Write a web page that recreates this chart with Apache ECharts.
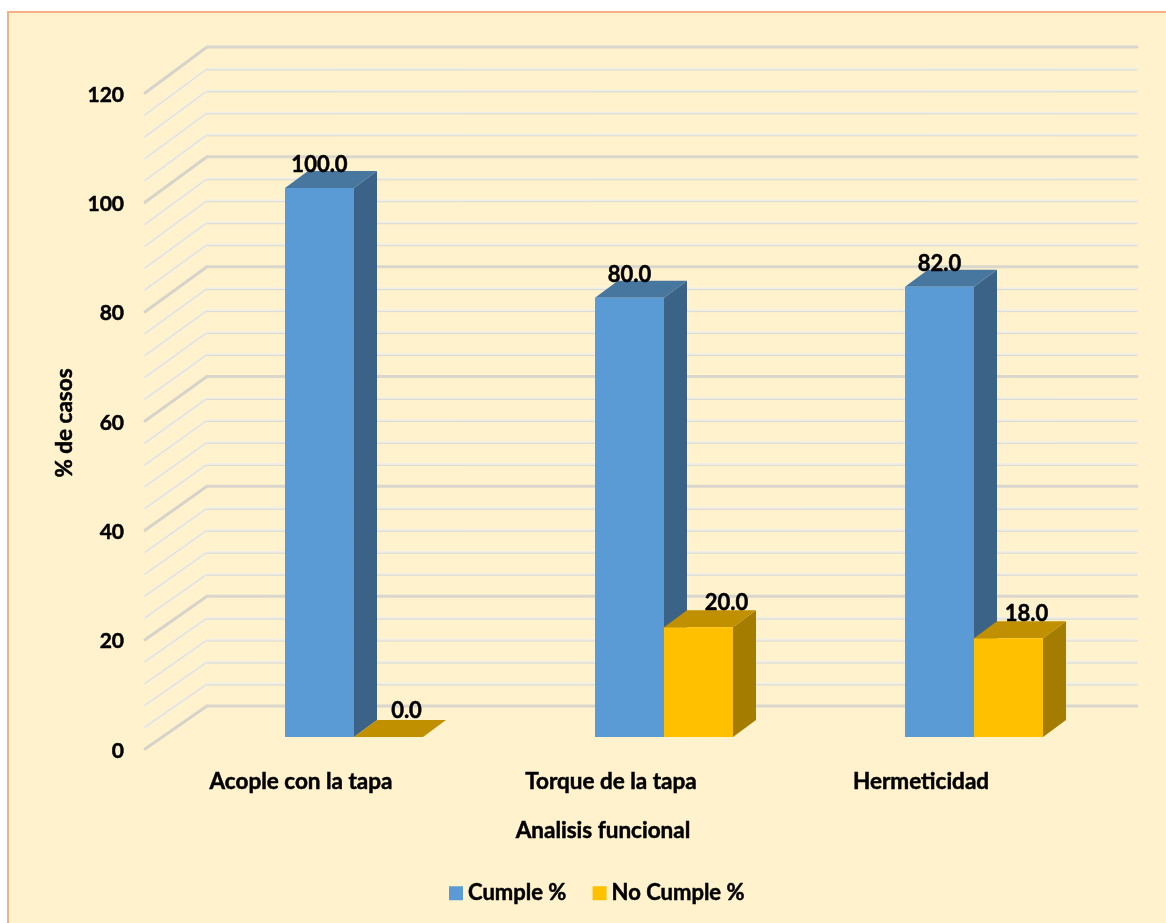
<!DOCTYPE html>
<html><head><meta charset="utf-8">
<style>html,body{margin:0;padding:0;background:#fff}#c{width:1166px;height:923px}</style>
<script src="https://cdn.jsdelivr.net/npm/echarts@6/dist/echarts.min.js"></script>
</head><body><div id="c"></div>
<script>
const categories = ['Acople con la tapa', 'Torque de la tapa', 'Hermeticidad'];
const cumple = [100, 80, 82];
const noCumple = [0, 20, 18];
const gridTicks = [0,4,8,12,16,20,24,28,32,36,40,44,48,52,56,60,64,68,72,76,80,84,88,92,96,100,104,108,112,116,120];
const majorTicks = [0,20,40,60,80,100,120];

const FONT = 'Lato';
const TXT = {fontFamily: FONT, fontWeight: 'bold', fontSize: 22.5, color: '#000', textBorderColor: '#000', textBorderWidth: 0.5};
const BAR_FRACTION = 69 / 310, DEPTH_X = 23, DEPTH_Y = -17;
const cumpleLabelShift = [[0,-23],[0,-23],[0,-23]];
const noCumpleLabelShift = [[18,-26],[28,-24],[18,-24]];

function barItem(offsetBars, front, top, side, shifts) {
  return function (params, api) {
    const i = api.value(0), v = api.value(1);
    const base = api.coord([i, 0]), head = api.coord([i, v]);
    const w = api.size([1, 0])[0] * BAR_FRACTION;
    const x0 = base[0] + offsetBars * w, x1 = x0 + w, yb = base[1], yt = head[1];
    const poly = (pts, fill) => ({type: 'polygon', shape: {points: pts}, style: {fill: fill}});
    const s = shifts[i];
    return {type: 'group', children: [
      poly([[x1,yb],[x1+DEPTH_X,yb+DEPTH_Y],[x1+DEPTH_X,yt+DEPTH_Y],[x1,yt]], side),
      poly([[x0,yt],[x0+DEPTH_X,yt+DEPTH_Y],[x1+DEPTH_X,yt+DEPTH_Y],[x1,yt]], top),
      {type: 'rect', shape: {x: x0, y: yt, width: w, height: yb - yt}, style: {fill: front}},
      {type: 'text', z2: 50, style: {x: (x0 + x1) / 2 + s[0], y: yt + s[1], text: v.toFixed(1), align: 'center', verticalAlign: 'middle',
        fontFamily: FONT, fontWeight: 'bold', fontSize: 22, fill: '#000', stroke: '#000', lineWidth: 0.5}}
    ]};
  };
}

function wallItem(params, api) {
  const v = api.value(0);
  const p = api.coord([0, v]);
  const x0 = params.coordSys.x, y0 = p[1];
  const dx = 62, dy = -43 - 3 * v / 120, xEnd = 1137;
  const bx = x0 + dx, by = y0 + dy;
  const major = majorTicks.includes(v);
  const line = (ax, ay, bx2, by2, width, col) => ({type: 'line', shape: {x1: ax, y1: ay, x2: bx2, y2: by2},
    style: {stroke: col, lineWidth: width, lineCap: 'round'}});
  const children = major
    ? [line(x0, y0, bx, by, 3, '#d6d3ca'), line(bx, by, xEnd, by, 3, '#d9d6cc')]
    : [line(x0, y0, bx, by, 2.5, '#efeee8'), line(x0, y0, bx, by, 0.7, '#d6d3ca'),
       line(bx, by, xEnd, by, 2.5, '#efeee8'), line(bx, by + 1, xEnd, by + 1, 0.8, '#d6d3c8')];
  return {type: 'group', children: children};
}

const chart = echarts.init(document.getElementById('c'), null, {renderer: 'canvas'});
chart.setOption({
  animation: false,
  backgroundColor: '#ffffff',
  graphic: [{type: 'rect', z: -10, shape: {x: 8, y: 12, width: 1170, height: 930},
    style: {fill: '#FFF2CC', stroke: '#F4B183', lineWidth: 2}}],
  legend: {left: 449, top: 882, itemWidth: 14, itemHeight: 14, itemGap: 26, icon: 'rect', padding: 0,
    textStyle: Object.assign({}, TXT, {fontSize: 22, padding: [5,0,0,0]}),
    data: ['Cumple %', 'No Cumple %']},
  grid: [
    {left: 145, right: 91, top: 93, bottom: 174},
    {left: 199, right: 37, top: 78.2, bottom: 186},
    {left: 145, right: 91, top: 95, bottom: 172}
  ],
  xAxis: [
    {type: 'category', gridIndex: 0, data: categories, axisLine: {show: false}, axisTick: {show: false},
     axisLabel: Object.assign({}, TXT, {margin: 19, padding: [2,0,0,2]}),
     name: 'Analisis funcional', nameLocation: 'middle', nameGap: 70,
     nameTextStyle: Object.assign({}, TXT, {padding: [0, 14, 0, 0]})},
    {type: 'category', gridIndex: 1, data: categories, show: false},
    {type: 'category', gridIndex: 2, data: categories, show: false}
  ],
  yAxis: [
    {type: 'value', gridIndex: 0, min: 0, max: 120, interval: 20, show: false},
    {type: 'value', gridIndex: 1, min: 0, max: 120, interval: 20, show: false},
    {type: 'value', gridIndex: 2, min: 0, max: 120, interval: 20, axisLine: {show: false}, axisTick: {show: false},
     splitLine: {show: false}, axisLabel: Object.assign({}, TXT, {fontSize: 21, margin: 21}),
     name: '% de casos', nameLocation: 'middle', nameGap: 66, nameRotate: 90, nameTextStyle: TXT}
  ],
  series: [
    {type: 'custom', name: 'walls', xAxisIndex: 0, yAxisIndex: 0, z: 1, silent: true, clip: false,
     data: gridTicks.map(v => [v]), encode: {y: 0}, renderItem: wallItem},
    {type: 'custom', name: 'Cumple %', xAxisIndex: 1, yAxisIndex: 1, z: 2, clip: false,
     itemStyle: {color: '#5B9BD5'}, encode: {x: 0, y: 1},
     data: cumple.map((v, i) => [i, v]),
     renderItem: barItem(-1, '#5B9BD5', '#47769F', '#3B6387', cumpleLabelShift)},
    {type: 'custom', name: 'No Cumple %', xAxisIndex: 1, yAxisIndex: 1, z: 3, clip: false,
     itemStyle: {color: '#FFC000'}, encode: {x: 0, y: 1},
     data: noCumple.map((v, i) => [i, v]),
     renderItem: barItem(0, '#FFC000', '#C09000', '#A37C00', noCumpleLabelShift)}
  ]
});
</script></body></html>
